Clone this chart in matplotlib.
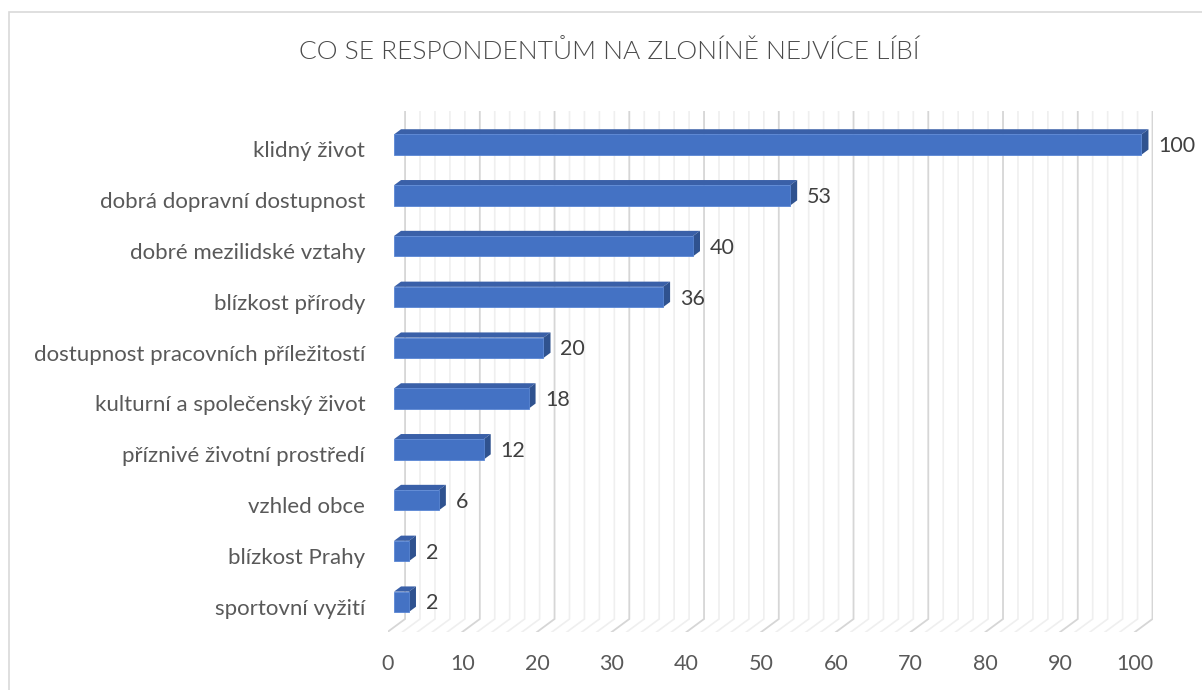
import matplotlib
matplotlib.use("Agg")
import matplotlib.pyplot as plt
from matplotlib.patches import Polygon, Rectangle

plt.rcParams["font.family"] = ["Lato", "DejaVu Sans"]

TITLE = "CO SE RESPONDENTŮM NA ZLONÍNĚ NEJVÍCE LÍBÍ"
categories = [
    "klidný život",
    "dobrá dopravní dostupnost",
    "dobré mezilidské vztahy",
    "blízkost přírody",
    "dostupnost pracovních příležitostí",
    "kulturní a společenský život",
    "příznivé životní prostředí",
    "vzhled obce",
    "blízkost Prahy",
    "sportovní vyžití",
]
values = [100, 53, 40, 36, 20, 18, 12, 6, 2, 2]
x_ticks = list(range(0, 101, 10))

# oblique "3D" look: depth d goes 0 (front of floor) -> 1 (back wall)
DX = 2.35    # x shift of the back wall, value units
DY = 0.256   # y shift of the floor front, category units
D_FRONT, D_BACK = 0.37, 0.77
BAR_H = 0.40

FRONT = "#4472C4"
TOP = "#3A60A8"
SIDE = "#2F528F"
TEXT = "#595959"

fig = plt.figure(figsize=(12.02, 6.90), dpi=100)
fig.patches.append(Rectangle((9 / 1202, -0.05), 1.1, 1.05 - 12 / 690,
                             transform=fig.transFigure, fill=False,
                             edgecolor="#d9d9d9", linewidth=1.2))

ax = fig.add_axes([387.5 / 1202, 58 / 690, 765 / 1202, 521 / 690])
n = len(categories)
ax.set_xlim(0, 100 + DX)
ax.set_ylim(n - 0.5 + DY, -0.5)


def pt(v, c, d):
    return (v + d * DX, c + (1 - d) * DY)


# back wall and floor grid
for v in range(0, 101, 2):
    major = v % 10 == 0
    col = "#d6d6d6" if major else "#efefef"
    lw = 1.3 if major else 1.2
    ax.plot([v + DX, v + DX, v], [-0.5, n - 0.5, n - 0.5 + DY],
            color=col, lw=lw, zorder=1 if major else 0.5,
            solid_joinstyle="miter")

for i, (cat, v) in enumerate(zip(categories, values)):
    yf = i + (1 - D_FRONT) * DY
    ax.barh(yf, v, left=D_FRONT * DX, height=BAR_H, color=FRONT,
            edgecolor="#5a86d4", linewidth=0.6, zorder=4)
    top = [pt(0, i - BAR_H / 2, D_FRONT), pt(v, i - BAR_H / 2, D_FRONT),
           pt(v, i - BAR_H / 2, D_BACK), pt(0, i - BAR_H / 2, D_BACK)]
    side = [pt(v, i - BAR_H / 2, D_FRONT), pt(v, i + BAR_H / 2, D_FRONT),
            pt(v, i + BAR_H / 2, D_BACK), pt(v, i - BAR_H / 2, D_BACK)]
    ax.add_patch(Polygon(top, closed=True, facecolor=TOP, edgecolor="none", zorder=3))
    ax.add_patch(Polygon(side, closed=True, facecolor=SIDE, edgecolor="none", zorder=3))
    ax.text(v + D_BACK * DX + 1.3, yf + 0.03, str(v), va="center", ha="left",
            fontsize=15.5, color="#404040")

ax.set_xticks(x_ticks)
ax.set_yticks([i + DY for i in range(n)])
ax.set_yticklabels(categories)
ax.tick_params(axis="x", length=0, pad=16, labelsize=15.5, labelcolor=TEXT)
ax.tick_params(axis="y", length=0, pad=16, labelsize=16, labelcolor=TEXT)
for s in ax.spines.values():
    s.set_visible(False)
ax.set_facecolor("none")

fig.text(609 / 1202, 1 - 52 / 690, TITLE, ha="center", va="center",
         fontsize=19, color="#4a4a4a", fontweight=300)

fig.savefig("out.png", dpi=100)
